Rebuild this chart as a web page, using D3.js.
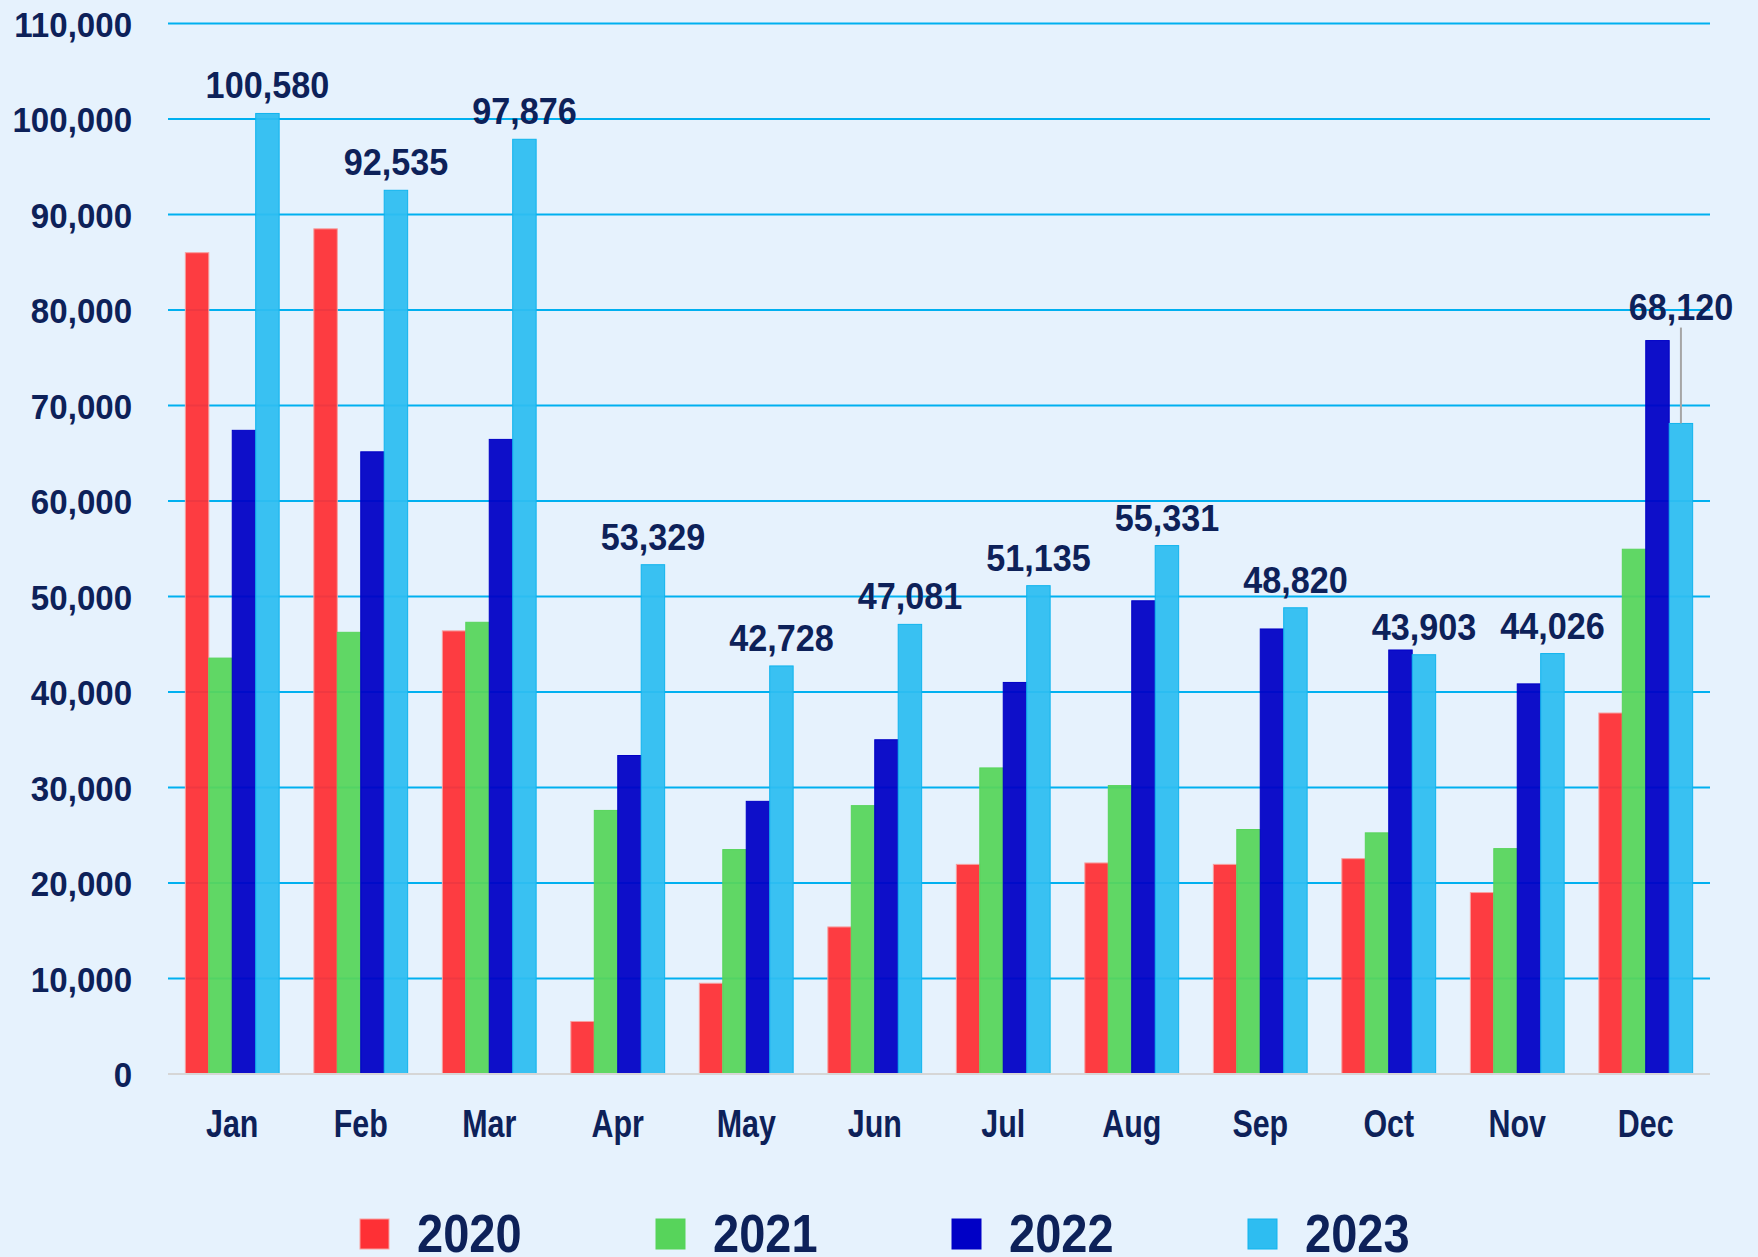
<!DOCTYPE html>
<html>
<head>
<meta charset="utf-8">
<script src="https://cdn.jsdelivr.net/npm/d3@7"></script>
<style>
  html, body { margin: 0; padding: 0; background: #e6f2fd; }
  text { font-family: "Liberation Sans", Arial, sans-serif; font-weight: bold; fill: #0d2159; }
</style>
</head>
<body>
<script>
// months on the x axis
var months = ["Jan", "Feb", "Mar", "Apr", "May", "Jun", "Jul", "Aug", "Sep", "Oct", "Nov", "Dec"];
var years = ["2020", "2021", "2022", "2023"];

// values per year (2023 is labelled)
var v2020 = [86000, 88500, 46400, 5500, 9500, 15400, 21950, 22100, 21950, 22550, 19000, 37800];
var v2021 = [43550, 46250, 47300, 27600, 23500, 28100, 32050, 30200, 25600, 25250, 23600, 54950];
var v2022 = [67400, 65150, 66450, 33350, 28550, 35000, 41000, 49550, 46600, 44400, 40850, 76800];
var v2023 = [100580, 92535, 97876, 53329, 42728, 47081, 51135, 55331, 48820, 43903, 44026, 68120];

var yTicks = [0, 10000, 20000, 30000, 40000, 50000, 60000, 70000, 80000, 90000, 100000, 110000];
var colors = ["#fe3035", "#57d45b", "#0000c6", "#2ebdf1"];
var strokes = ["#f7a0a0", "#57d45b", "#0000c6", "#10b4ee"];

var W = 1758, H = 1257;
var margin = {top: 23.5, right: 48, bottom: 183, left: 168},
    width = W - margin.left - margin.right,
    height = H - margin.top - margin.bottom;

var series = [v2020, v2021, v2022, v2023];
var data = months.map(function(m, i) {
  return {month: m, values: years.map(function(y, k) { return {year: y, value: series[k][i]}; })};
});

var svg = d3.select("body").append("svg")
    .attr("width", W)
    .attr("height", H);

svg.append("rect").attr("width", W).attr("height", H).attr("fill", "#e6f2fd");

var g = svg.append("g")
    .attr("transform", "translate(" + margin.left + "," + margin.top + ")");

var x0 = d3.scaleBand().domain(months).range([0, width]).paddingInner(0.27).paddingOuter(0.135);
var x1 = d3.scaleBand().domain(years).range([0, x0.bandwidth()]);
var y = d3.scaleLinear().domain([0, 110000]).range([height, 0]);
var color = d3.scaleOrdinal().domain(years).range(colors);
var stroke = d3.scaleOrdinal().domain(years).range(strokes);
var fmt = d3.format(",");

// gridlines
g.selectAll(".grid")
  .data(yTicks.slice(1))
  .enter().append("line")
  .attr("x1", 0).attr("x2", width)
  .attr("y1", function(d) { return y(d); })
  .attr("y2", function(d) { return y(d); })
  .attr("stroke", "#00b0f0")
  .attr("stroke-width", 2);

// y axis labels (squeezed a bit, the original font is a narrow one)
var yAxis = g.append("g").call(d3.axisLeft(y).tickValues(yTicks).tickFormat(fmt).tickSize(0).tickPadding(39));
yAxis.select(".domain").remove();
yAxis.selectAll("text")
  .attr("font-size", 36).attr("font-family", null)
  .attr("dy", "0.36em")
  .attr("transform", "scale(0.92,1)");

// bars
var group = g.selectAll(".month")
  .data(data)
  .enter().append("g")
  .attr("class", "month")
  .attr("transform", function(d) { return "translate(" + x0(d.month) + ",0)"; });

group.selectAll("rect")
  .data(function(d) { return d.values; })
  .enter().append("rect")
  .attr("x", function(d) { return x1(d.year); })
  .attr("width", x1.bandwidth())
  .attr("y", function(d) { return y(d.value); })
  .attr("height", function(d) { return height - y(d.value); })
  .attr("fill", function(d) { return color(d.year); })
  .attr("fill-opacity", 0.94)
  .attr("stroke", function(d) { return stroke(d.year); })
  .attr("stroke-width", 1);

// baseline
g.append("line")
  .attr("x1", 0).attr("x2", width)
  .attr("y1", y(0)).attr("y2", y(0))
  .attr("stroke", "#d6d6d6").attr("stroke-width", 2);

// x axis labels
var xAxis = g.append("g")
  .attr("transform", "translate(0," + height + ")")
  .call(d3.axisBottom(x0).tickSize(0).tickPadding(36));
xAxis.select(".domain").remove();
xAxis.selectAll("text")
  .attr("font-size", 38).attr("font-family", null)
  .attr("transform", "scale(0.8,1)");

// value labels on 2023 bars, lifted with a leader line when 2022 is much taller
group.each(function(d) {
  var last = d.values[3], prev = d.values[2];
  var cx = x1(last.year) + x1.bandwidth() / 2;
  var top = y(last.value);
  var ly = top - 15;
  var el = d3.select(this);
  if (y(prev.value) < top - 20) {
    ly = y(prev.value) - 21;
    el.append("line")
      .attr("x1", cx).attr("x2", cx)
      .attr("y1", ly + 8).attr("y2", top)
      .attr("stroke", "#a6a6a6").attr("stroke-width", 2);
  }
  el.append("text")
    .attr("transform", "translate(" + cx + "," + ly + ") scale(0.95,1)")
    .attr("text-anchor", "middle")
    .attr("font-size", 36)
    .text(fmt(last.value));
});

// legend
var legend = svg.append("g").attr("transform", "translate(360,1219)");
var item = legend.selectAll(".item")
  .data(years)
  .enter().append("g")
  .attr("transform", function(d, i) { return "translate(" + (i * 296) + ",0)"; });
item.append("rect")
  .attr("width", 29).attr("height", 30)
  .attr("fill", function(d) { return color(d); })
  .attr("stroke", function(d) { return stroke(d); });
item.append("text")
  .attr("transform", "translate(57,33) scale(0.87,1)")
  .attr("font-size", 54)
  .text(function(d) { return d; });
</script>
</body>
</html>
